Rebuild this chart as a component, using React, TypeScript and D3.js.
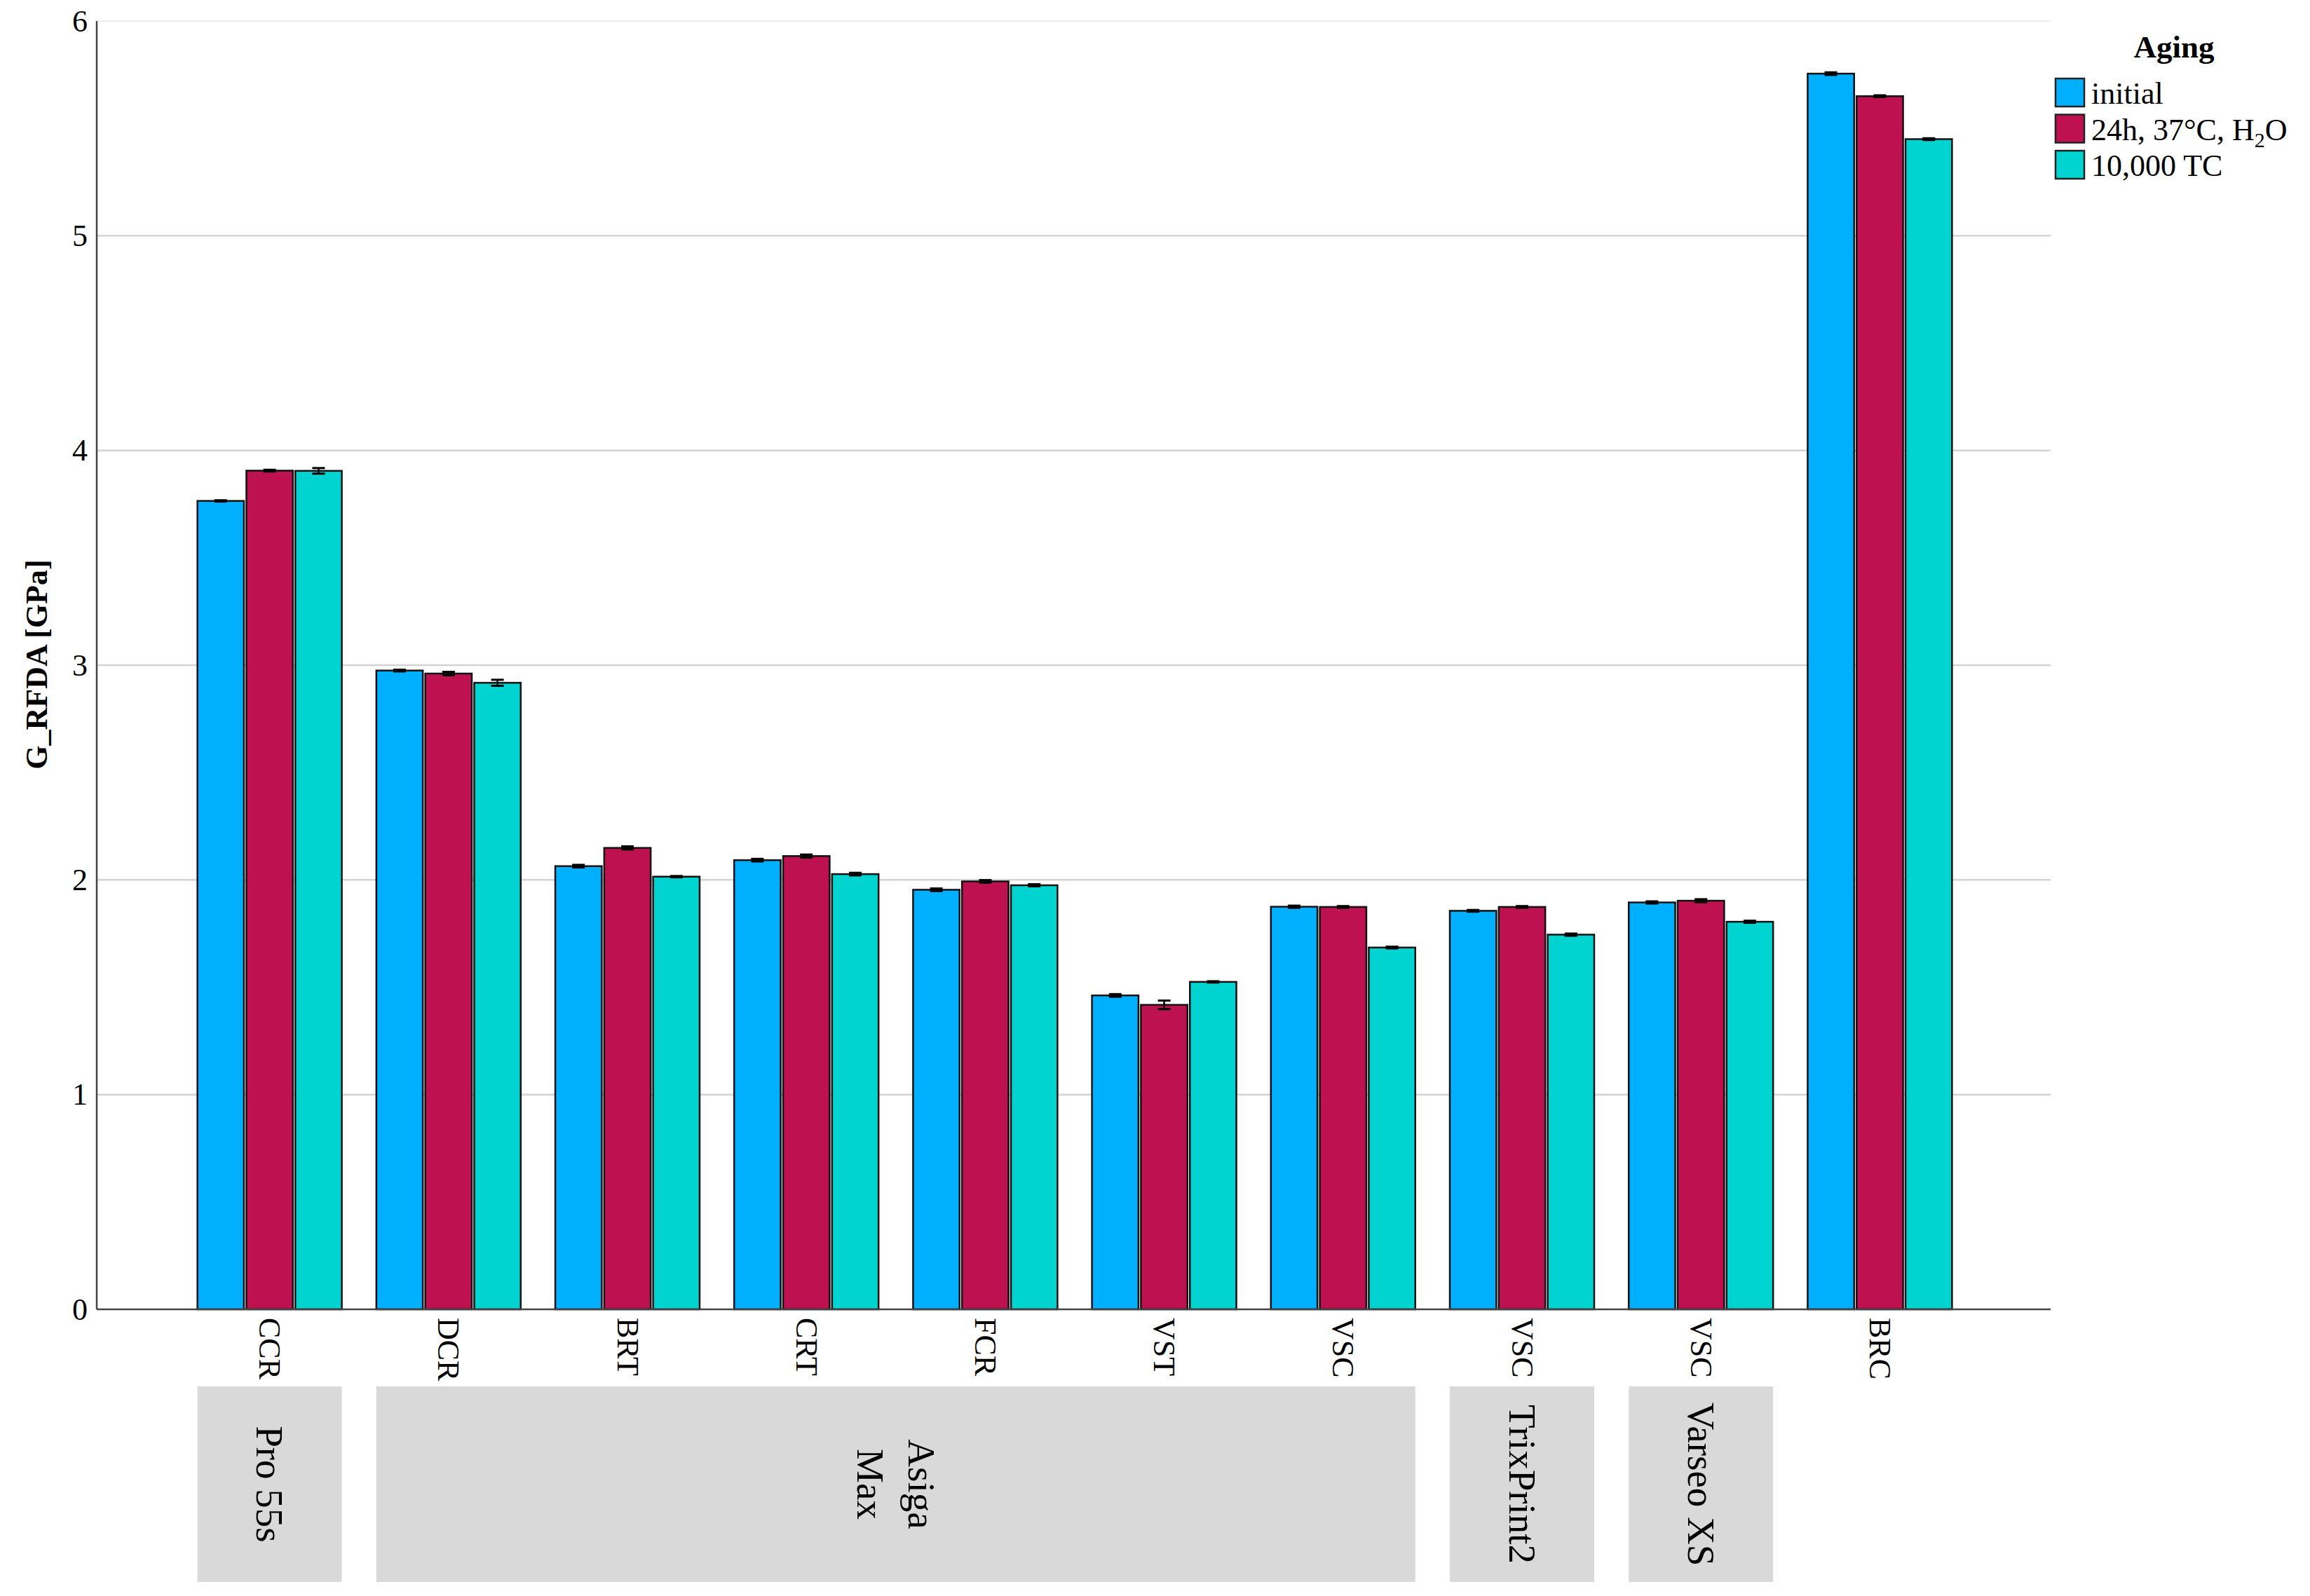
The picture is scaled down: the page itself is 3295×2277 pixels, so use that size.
import React from "react";
import * as d3 from "d3";

const categories = ["CCR", "DCR", "BRT", "CRT", "FCR", "VST", "VSC", "VSC", "VSC", "BRC"];
const seriesNames = ["initial", "24h, 37°C, H2O", "10,000 TC"];
const initialVals = [3.765, 2.975, 2.064, 2.092, 1.954, 1.462, 1.875, 1.856, 1.895, 5.755];
const h2oVals = [3.906, 2.961, 2.149, 2.111, 1.993, 1.418, 1.874, 1.874, 1.903, 5.65];
const tcVals = [3.905, 2.918, 2.015, 2.027, 1.975, 1.525, 1.685, 1.745, 1.805, 5.45];
const initialErr = [0.003, 0.004, 0.006, 0.006, 0.006, 0.006, 0.005, 0.004, 0.005, 0.006];
const h2oErr = [0.004, 0.008, 0.007, 0.007, 0.006, 0.02, 0.004, 0.004, 0.007, 0.004];
const tcErr = [0.013, 0.014, 0.003, 0.006, 0.005, 0.003, 0.004, 0.005, 0.005, 0.004];
const yTicks = [0, 1, 2, 3, 4, 5, 6];
const groupLabels = [["Pro 55s"], ["Asiga", "Max"], ["TrixPrint2"], ["Varseo XS"]];
const groupStart = [0, 1, 7, 8];
const groupEnd = [0, 6, 7, 8];

const colors = ["#00B0FF", "#BE1250", "#00D3D0"];
const FONT = "'Liberation Serif', 'Times New Roman', serif";

export default function App() {
  const W = 3295, H = 2277;
  const left = 138, right = 2925, top = 30, bottom = 1868;
  const y = d3.scaleLinear().domain([0, 6]).range([bottom, top]);
  const idx = categories.map((_, i) => i);
  const x0 = d3.scaleBand<number>().domain(idx).range([257, 2809]).paddingInner(0.193).paddingOuter(0.0965);
  const x1 = d3.scaleBand<number>().domain([0, 1, 2]).range([0, x0.bandwidth()]).paddingInner(0.05);
  const vals = [initialVals, h2oVals, tcVals];
  const errs = [initialErr, h2oErr, tcErr];
  const capHalf = 9;

  return (
    <div style={{ position: "absolute", left: 0, top: 0 }}>
      <svg width={W} height={H} style={{ display: "block", background: "#fff" }} fontFamily={FONT}>
        {/* gridlines */}
        {yTicks.filter((t) => t > 0).map((t) => (
          <line key={"g" + t} x1={left} x2={right} y1={y(t)} y2={y(t)}
            stroke={t === 6 ? "#f0f0f0" : "#d4d4d4"} strokeWidth={2.5} />
        ))}
        {/* bars */}
        {idx.map((i) => (
          <g key={"c" + i} transform={`translate(${x0(i)},0)`}>
            {vals.map((s, k) => {
              const bx = x1(k)!;
              const bw = x1.bandwidth();
              const v = s[i];
              const e = errs[k][i];
              const cx = bx + bw / 2;
              return (
                <g key={k}>
                  <rect x={bx} y={y(v)} width={bw} height={y(0) - y(v)} fill={colors[k]}
                    stroke="#111" strokeWidth={2.5} />
                  <line x1={cx} x2={cx} y1={y(v + e)} y2={y(v - e)} stroke="#000" strokeWidth={2.5} />
                  <line x1={cx - capHalf} x2={cx + capHalf} y1={y(v + e)} y2={y(v + e)} stroke="#000" strokeWidth={3} />
                  <line x1={cx - capHalf} x2={cx + capHalf} y1={y(v - e)} y2={y(v - e)} stroke="#000" strokeWidth={3} />
                </g>
              );
            })}
          </g>
        ))}
        {/* axes */}
        <line x1={left} x2={left} y1={top} y2={bottom} stroke="#444" strokeWidth={2.5} />
        <line x1={left} x2={right} y1={bottom} y2={bottom} stroke="#444" strokeWidth={2.5} />
        {yTicks.map((t) => (
          <text key={"t" + t} x={125} y={y(t)} textAnchor="end" dominantBaseline="central" fontSize={44} fill="#000">
            {t}
          </text>
        ))}
        <text transform={`translate(52,948) rotate(-90)`} textAnchor="middle" dominantBaseline="central"
          fontSize={44} fontWeight="bold" fill="#000">G_RFDA [GPa]</text>
        {/* x labels */}
        {idx.map((i) => (
          <text key={"xl" + i} transform={`translate(${x0(i)! + x0.bandwidth() / 2},1880) rotate(90)`}
            textAnchor="start" dominantBaseline="central" fontSize={44} fill="#000">
            {categories[i]}
          </text>
        ))}
        {/* group boxes */}
        {groupLabels.map((lab, g) => {
          const gx0 = x0(groupStart[g])!;
          const gx1 = x0(groupEnd[g])! + x0.bandwidth();
          const cx = (gx0 + gx1) / 2;
          const cy = (1978 + 2257) / 2;
          return (
            <g key={"gb" + g}>
              <rect x={gx0} y={1978} width={gx1 - gx0} height={2257 - 1978} fill="#D9D9D9" />
              {lab.map((l, j) => {
                const off = (j - (lab.length - 1) / 2) * 73;
                return (
                  <text key={j} transform={`translate(${cx - off},${cy}) rotate(90)`} textAnchor="middle"
                    dominantBaseline="central" fontSize={55} fill="#000">{l}</text>
                );
              })}
            </g>
          );
        })}
        {/* legend */}
        <text x={3101} y={82} textAnchor="middle" fontSize={45} fontWeight="bold" fill="#000">Aging</text>
        {seriesNames.map((n, k) => (
          <g key={"lg" + k} transform={`translate(2932,${112 + k * 51.5})`}>
            <rect x={0} y={0} width={41} height={40} fill={colors[k]} stroke="#222" strokeWidth={2.5} />
            <text x={51} y={36} fontSize={44} fill="#000">
              {k === 1 ? (
                <>
                  <tspan>24h, 37°C, H</tspan>
                  <tspan dy={10} fontSize={30}>2</tspan>
                  <tspan dy={-10}>O</tspan>
                </>
              ) : n}
            </text>
          </g>
        ))}
      </svg>
    </div>
  );
}
